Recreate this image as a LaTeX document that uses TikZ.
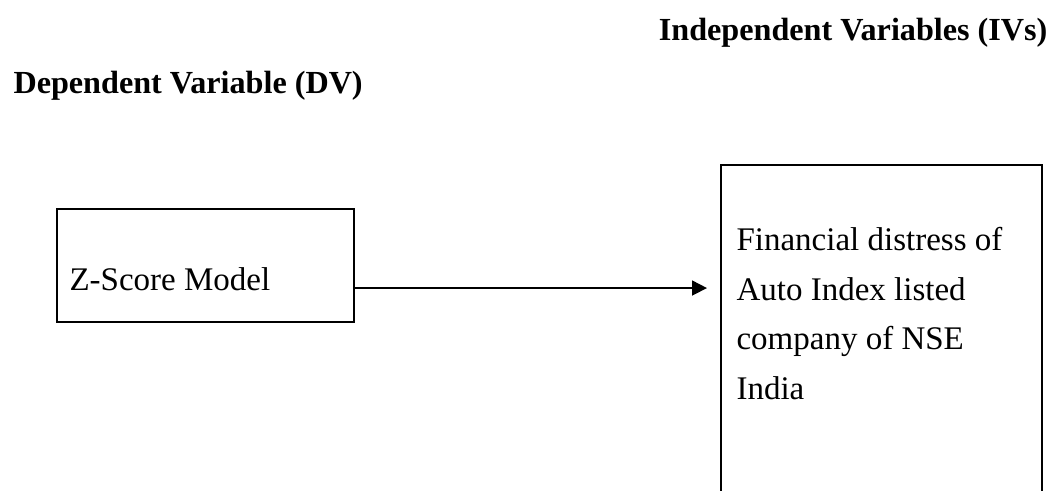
\documentclass[tikz,border=0pt]{standalone}
\usepackage{fontspec}
\setmainfont{Liberation Serif}
\usepackage{tikz}
\usetikzlibrary{arrows.meta, positioning}
\newcommand{\pxu}{0.3636pt}
\tikzset{
  box/.style = {rectangle, draw=black, line width=0.75pt, inner sep=0pt},
  heading/.style = {font=\fontsize{11.7}{18}\selectfont\bfseries, inner sep=0pt},
  plain/.style = {font=\fontsize{12}{18}\selectfont, inner sep=0pt, align=left},
  arrow/.style = {line width=0.6pt, -{Triangle[length=5.4pt, width=5.4pt]}}
}
\begin{document}
\begin{tikzpicture}[x=\pxu, y=-\pxu]
\clip (0,0) rectangle (1056,490);

\node (ivhead) [heading, anchor=base east] at (1048,40) {Independent Variables (IVs)};
\node (dvhead) [heading, anchor=base west] at (13,93) {Dependent Variable (DV)};

\node (zbox) [box, anchor=north west, minimum width=297*\pxu, minimum height=113*\pxu] at (56,208) {};
\node (ztext) [plain, anchor=base west] at (69,290) {Z-Score Model};

\node (ivbox) [box, anchor=north west, minimum width=321*\pxu, minimum height=360*\pxu] at (720,164) {};
\node (ivtext) [plain, anchor=north west] at (736,227)
  {Financial distress of\\ Auto Index listed\\ company of NSE\\ India};

\coordinate (arrowstart) at ([yshift=-22.5*\pxu]zbox.east);
\draw [arrow] (arrowstart) -- ([xshift=-13*\pxu]ivbox.west |- arrowstart);

\end{tikzpicture}
\end{document}
